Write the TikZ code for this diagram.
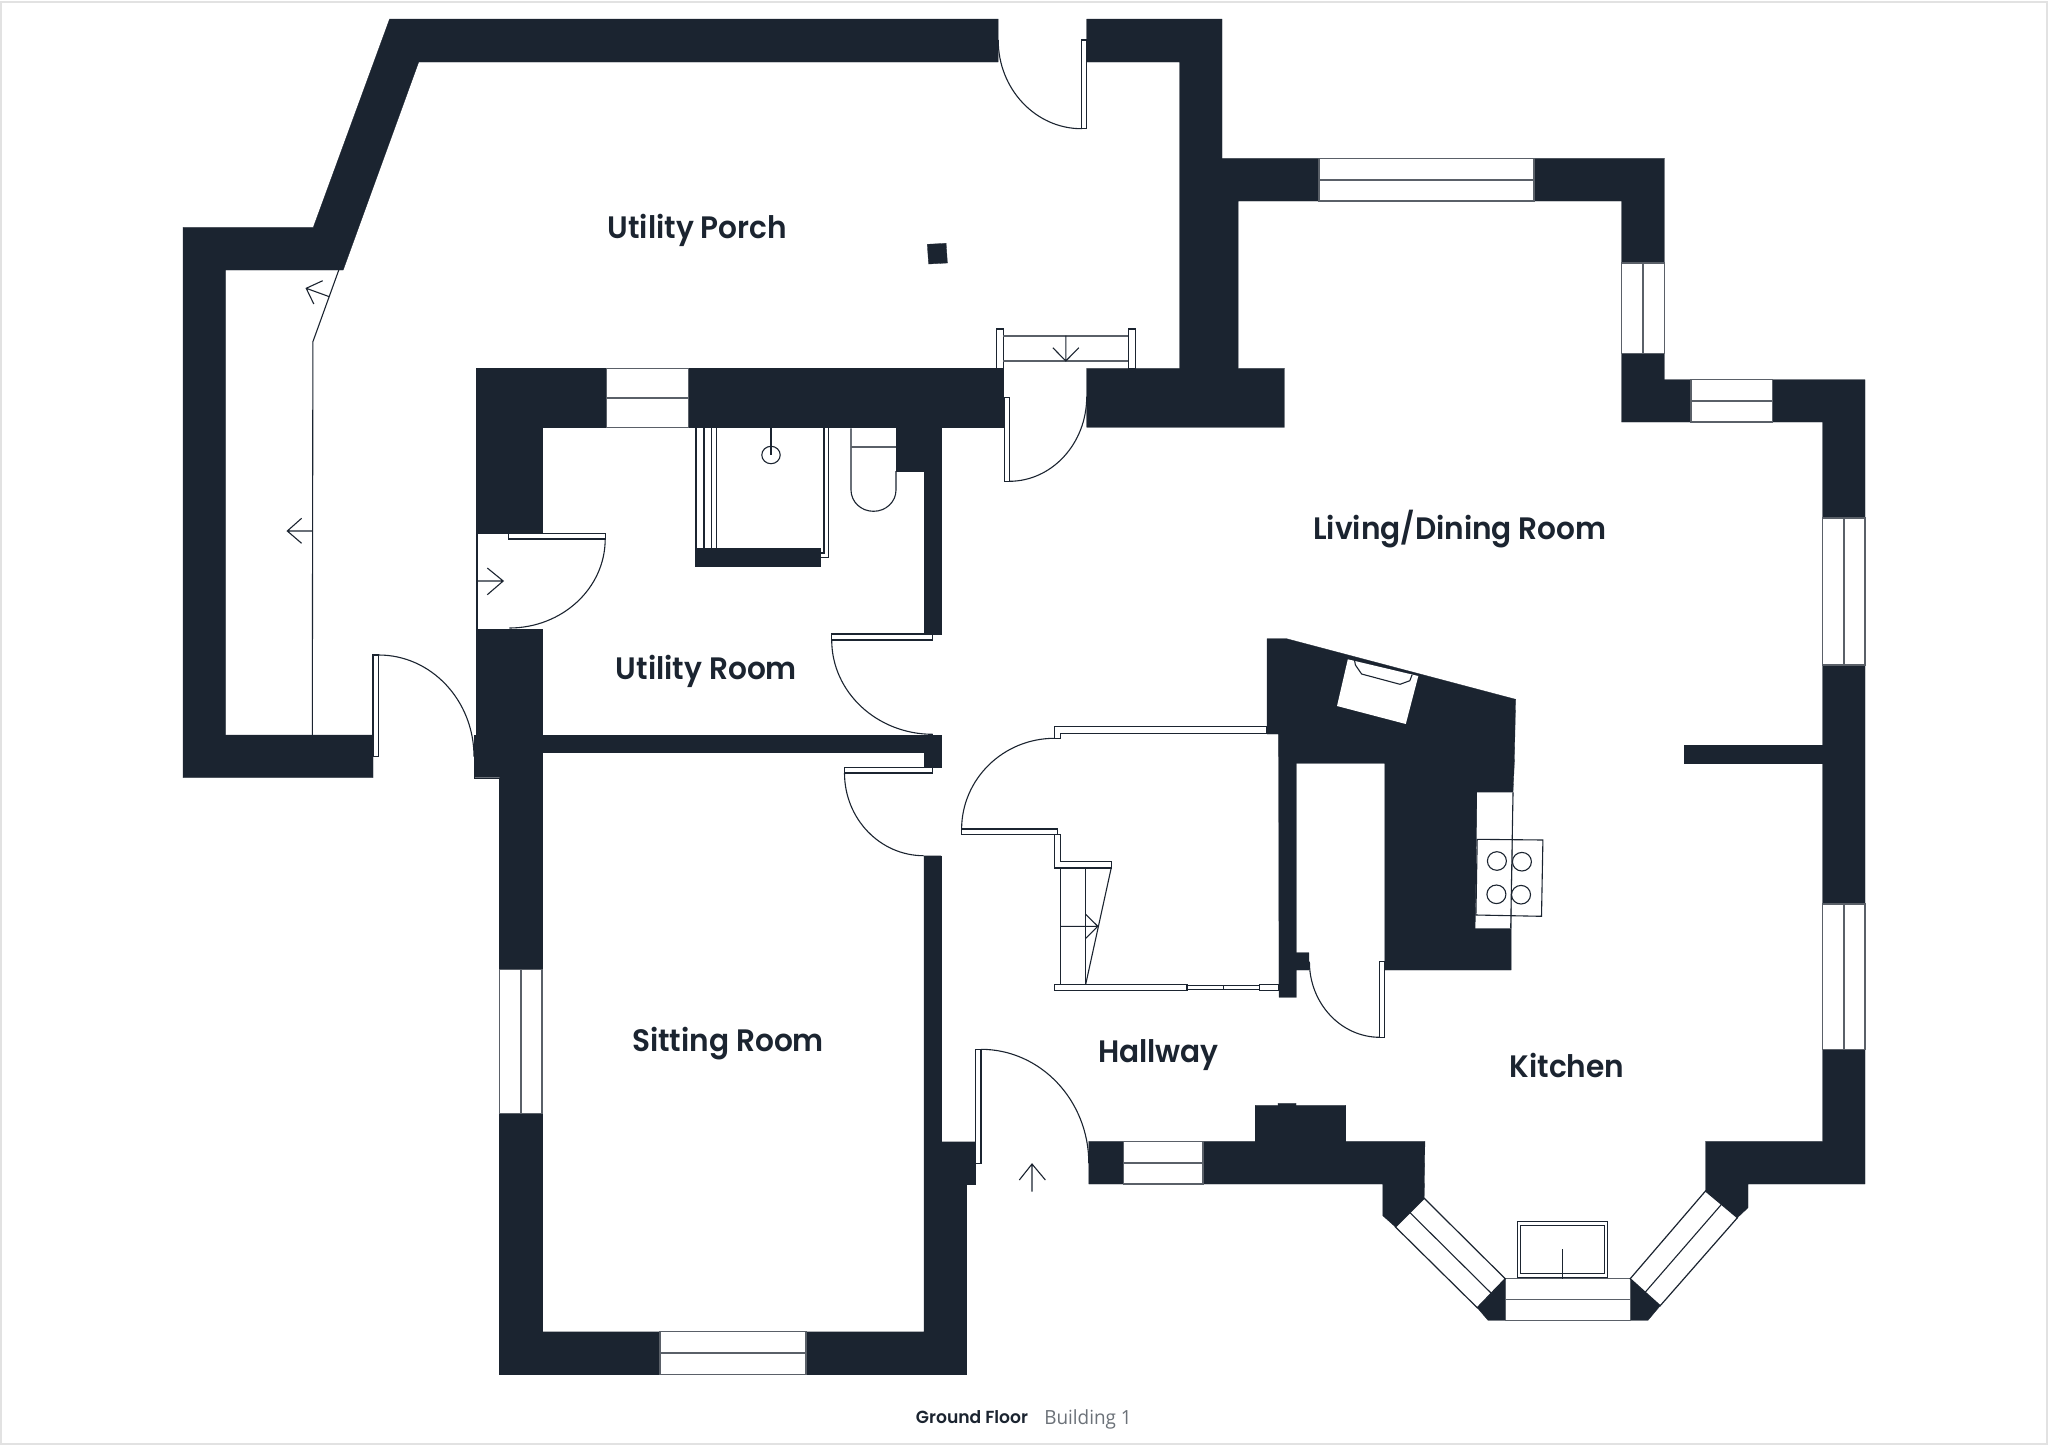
\documentclass[tikz,border=0pt]{standalone}
\usepackage{fontspec}
\usetikzlibrary{calc}
\newfontfamily\lblfont[FakeStretch=0.955]{Poppins SemiBold}
\newfontfamily\flrfont[FakeStretch=0.98]{Poppins SemiBold}
\newfontfamily\bldfont[FakeStretch=0.97]{Open Sans}
\definecolor{wallc}{HTML}{1B2430}
\definecolor{wing}{HTML}{5A6068}
\definecolor{sheet}{HTML}{E2E2E2}
\definecolor{bldc}{HTML}{6B7178}
\tikzset{
  wall/.style={fill=wallc,draw=wallc,line width=0.3pt,line join=miter},
  thin line/.style={draw=wallc,line width=1.1pt,line cap=butt},
  leaf/.style={draw=wallc,fill=white,line width=1.1pt},
  glass/.style={fill=white,draw=wing,line width=1.2pt},
  mull/.style={draw=wing,line width=1.8pt},
  room/.style={font=\lblfont\fontsize{31}{31}\selectfont,text=wallc,inner sep=0pt,anchor=center},
}
\newcommand{\winH}[4]{\path[glass] (#1,#2) rectangle (#3,#4); \draw[mull] (#1,{(#2+#4)/2}) -- (#3,{(#2+#4)/2});}
\newcommand{\winV}[4]{\path[glass] (#1,#2) rectangle (#3,#4); \draw[mull] ({(#1+#3)/2},#2) -- ({(#1+#3)/2},#4);}
% quarter ellipse from P to Q with tangent corner C
\newcommand{\qarc}[6]{\draw[thin line] (#1,#2) .. controls ($(#1,#2)!0.5523!(#5,#6)$) and ($(#3,#4)!0.5523!(#5,#6)$) .. (#3,#4);}
\begin{document}
\begin{tikzpicture}[x=1pt,y=-1pt]
\useasboundingbox (0,0) rectangle (2048,1446);
\fill[white] (0,0) rectangle (2048,1446);
\draw[sheet,line width=2pt] (1,2) rectangle (2047,1444);

% walls
\path[wall] (389.6,19)--(998.2,19)--(998.2,62)--(418.7,62)--(343.2,270)--(225.5,270)--(225.5,735)--(373,735)--(373,777.7)--(183,777.7)--(183,227.3)--(313.3,227.3)--cycle;
\path[wall] (1086.7,19)--(1222,19)--(1222,158.3)--(1664.4,158.3)--(1664.4,379.7)--(1865,379.7)--(1865,1184)--(1748,1184)--(1748,1207.7)--(1737.4,1217.7)--(1705.5,1191)--(1705.5,1141.3)--(1822.5,1141.3)--(1822.5,422)--(1621.5,422)--(1621.5,201)--(1238.2,201)--(1238.2,368.3)--(1284.4,368.3)--(1284.4,427.3)--(1086.7,427.3)--(1086.7,368.3)--(1179.7,368.3)--(1179.7,62)--(1086.7,62)--cycle;
\path[wall] (476,368.5)--(1003.4,368.5)--(1003.4,427.3)--(941.4,427.3)--(941.4,634)--(924,634)--(924,471.3)--(896,471.3)--(896,427.3)--(542,427.3)--(542,533.3)--(476,533.3)--cycle;
\path[wall] (476,629)--(542,629)--(542,735)--(941.4,735)--(941.4,767.3)--(924,767.3)--(924,752.3)--(542,752.3)--(542,1331.7)--(923.8,1331.7)--(923.8,855.7)--(941.2,855.7)--(941.2,1141.7)--(975.5,1141.7)--(975.5,1184)--(966.6,1184)--(966.6,1374.3)--(499.6,1374.3)--(499.6,777.7)--(474,777.7)--(474,735)--(476,735)--cycle;
\path[wall] (1088.8,1141.3)--(1255.2,1141.3)--(1255.2,1105.3)--(1278,1105.3)--(1278,1103.3)--(1296,1103.3)--(1296,1105.3)--(1345.8,1105.3)--(1345.8,1141.3)--(1424.9,1141.3)--(1424.2,1198.3)--(1395.5,1227)--(1382.8,1215.7)--(1382.8,1184)--(1088.8,1184)--cycle;
\path[wall] (1505.2,1278.7)--(1477.2,1307.7)--(1488,1320.3)--(1505.2,1320.3)--cycle;
\path[wall] (1630.2,1278.7)--(1660.2,1305.7)--(1648,1320.3)--(1630.2,1320.3)--cycle;
\path[wall] (1684.5,745)rectangle(1822.5,763);
\path[wall] (927.3,244.3)--(946.1,243.3)--(947.4,263)--(928.6,264)--cycle;
% shower block
\path[wall] (695.5,548.3) rectangle (820,565.7);
% kitchen / chimney mass
\path[wall] (1267,638.7)--(1286.6,638.7)--(1515.6,699.3)--(1514.3,763.3)--(1513,792.3)--(1511.2,928.3)--(1511.2,970)--(1384.8,970)--(1384.8,763.3)--(1296.4,763.3)--(1296.4,952.7)--(1308.9,952.7)--(1308.9,970)--(1296.4,970)--(1296.4,997.3)--(1279,997.3)--(1278.6,734)--(1267,734)--cycle;
\fill[white] (1347.8,659.3)--(1418.3,676)--(1405.8,724)--(1337,706)--cycle;
\draw[thin line] (1354.5,660)--(1355.4,665)--(1361.6,674)--(1400,684.3)--(1409.8,680.7)--(1412,675);
\fill[white] (1477.2,792.3)--(1513,792.3)--(1511.2,928.3)--(1475.4,928.3)--cycle;

% windows
\winH{1319}{158.3}{1534}{201}
\winV{1621.5}{263}{1664.4}{353.7}
\winH{1691}{379.7}{1772.4}{422}
\winV{1822.5}{518}{1865}{665}
\winV{1822.5}{904}{1865}{1049.3}
\winH{1505.2}{1278.7}{1630.2}{1320.3}
\winH{1123.2}{1141.3}{1202.9}{1184}
\winH{660}{1331.7}{805.9}{1374.3}
\winV{499.6}{969.3}{542}{1113.3}
\winH{606.2}{368.7}{688.4}{427.3}
\path[glass,draw=wallc] (1424.2,1198.3)--(1395.5,1227)--(1477.2,1307.7)--(1505.2,1278.7)--cycle;
\draw[thin line] (1409.9,1212.6)--(1491.2,1293.2);
\path[glass,draw=wallc] (1705.5,1191)--(1737.4,1217.7)--(1660.2,1305.7)--(1630.2,1278.7)--cycle;
\draw[thin line] (1721.5,1204.3)--(1645.2,1292.2);

% hob
\draw[thin line] (1477.2,839.3)--(1542.9,840)--(1541.5,916.3)--(1475.9,915)--cycle;
\draw[thin line] (1513,792.3)--(1510.7,928.3);
\draw[thin line] (1496.9,861) ellipse (9.5 and 9.3);
\draw[thin line] (1521.9,861.7) ellipse (9.5 and 9.3);
\draw[thin line] (1496.4,894.3) ellipse (9.5 and 9.3);
\draw[thin line] (1521,894.7) ellipse (9.5 and 9.3);

% sink
\draw[thin line] (1517.3,1221.7) rectangle (1607.9,1277.3);
\draw[thin line] (1520.5,1225.3) rectangle (1604.7,1273.3);
\draw[thin line] (1562.6,1249.3)--(1562.6,1278.7);

% doors
\path[leaf] (1081.5,40) rectangle (1086.7,128.7);
\qarc{998.2}{40}{1081.5}{128.7}{998.2}{128.7}
\path[leaf] (1004.7,397.3) rectangle (1009.2,481.3);
\qarc{1086.7}{396.7}{1009.2}{481.3}{1086.7}{481.3}
\path[leaf] (996.9,329) rectangle (1003.4,368.3);
\path[leaf] (1128.3,329) rectangle (1135.4,368.3);
\draw[thin line,draw=wing,line width=1.6pt] (1003.4,335.7)--(1128.3,335.7) (1003.4,361)--(1128.3,361);
\draw[thin line] (1065.8,335.7)--(1065.8,361) (1052.8,347.7)--(1065.8,361)--(1078.8,347.7);

\path[leaf] (373,655) rectangle (378.7,756.7);
\qarc{378.7}{655}{474}{756.7}{474}{655}
\draw[thin line] (477,533.3)--(477,629);
\path[leaf] (508.8,533.3) rectangle (605.2,539);
\qarc{605.2}{539}{509.3}{628}{605.2}{628}
\draw[thin line] (477,581)--(503.2,581) (487.3,568)--(503.2,581)--(487.3,594.7);

\path[leaf] (831.7,634) rectangle (932.8,640);
\qarc{831.7}{640}{932.8}{734.3}{831.7}{734.3}
\path[leaf] (844.5,767.3) rectangle (932.8,773);
\qarc{844.5}{773}{923.7}{855.7}{844.5}{855.7}
\path[leaf] (975.9,1049.3) rectangle (981,1163.3);
\qarc{981}{1049.3}{1088.8}{1163.3}{1088.8}{1049.3}
\draw[thin line] (1032,1164)--(1032,1191.7) (1019.3,1180)--(1032,1164)--(1045.4,1180);
\path[leaf] (1379.9,961.3) rectangle (1384.4,1037.3);
\qarc{1309.4}{961.7}{1379.9}{1037.3}{1309.4}{1037.3}

% porch line + arrows
\draw[thin line] (312.3,735)--(312.9,341.7)--(338.8,270);
\draw[thin line] (312.3,531)--(287.3,531) (301.6,518.3)--(287.3,531)--(301.6,543.3);
\draw[thin line] (329.4,296.7)--(306.2,288.3) (322.7,280.7)--(306.2,288.3)--(313.8,304);

% shower
\draw[thin line] (696,427.3)--(696,548.3) (704,427.3)--(704,548.3) (711.8,427.3)--(711.8,548.3) (716.4,427.3)--(716.4,548.3);
\draw[thin line] (824,427.3)--(824,553) -- (820,553) (828.7,427.3)--(828.7,557.3)--(820,557.3);
\draw[thin line] (771,427.3)--(771,455);
\draw[thin line] (771,455) ellipse (9.2 and 8.7);

% toilet
\draw[thin line] (851,428.3)--(851,490) .. controls (851,501.8) and (861,511.3) .. (873.5,511.3) .. controls (886,511.3) and (896,501.8) .. (896,490) -- (896,471);
\draw[thin line,draw=wing,line width=1.6pt] (851,446.7)--(896,446.7);

% hall cupboard / stairs
\path[leaf] (1054.5,726.7)--(1267,726.7)--(1267,733.3)--(1060.7,733.3)--(1060.7,738.3)--(1054.5,738.3)--cycle;
\draw[thin line] (1267,733.3)--(1278.6,733.3);
\qarc{1054.5}{738.3}{961.6}{829.3}{961.6}{738.3}
\path[leaf] (961.6,829) rectangle (1057.6,834.3);
\path[leaf] (1054.5,834.3)--(1060.7,834.3)--(1060.7,861.7)--(1111.2,861.7)--(1111.2,868)--(1054.5,868)--cycle;
\draw[thin line] (1060.7,868)--(1060.7,984.3) (1085.7,868)--(1085.7,984.3);
\draw[thin line] (1111.2,868)--(1085.7,984.3);
\draw[thin line] (1060.7,926.3)--(1097.8,926.3) (1085.7,914.3)--(1097.8,926.3)--(1085.7,938.3);
\path[leaf] (1054.5,984.3) rectangle (1187,990.7);
\path[leaf] (1187,985.3) rectangle (1259.4,989.3);
\draw[thin line] (1223.7,985.3)--(1223.7,989.3);
\path[leaf] (1259.8,984.3) rectangle (1279,990.7);

% labels
\node[room] (porch) at (697.5,230.5) {Utility Porch};
\node[room] (living) at (1460,529) {Living/Dining Room};
\node[room] (utility) at (706.5,671) {Utility Room};
\node[room] (sitting) at (728,1043.5) {Sitting Room};
\node[room] (hall) at (1158.5,1055) {Hallway};
\node[room] (kitchen) at (1567,1065) {Kitchen};
\node[inner sep=0pt,text=wallc,font=\flrfont\fontsize{17.5}{17.5}\selectfont] (ground) at (972,1417.5) {Ground Floor};
\node[inner sep=0pt,text=bldc,font=\bldfont\fontsize{19.5}{19.5}\selectfont] (building) at (1088,1419) {Building 1};
\end{tikzpicture}
\end{document}
